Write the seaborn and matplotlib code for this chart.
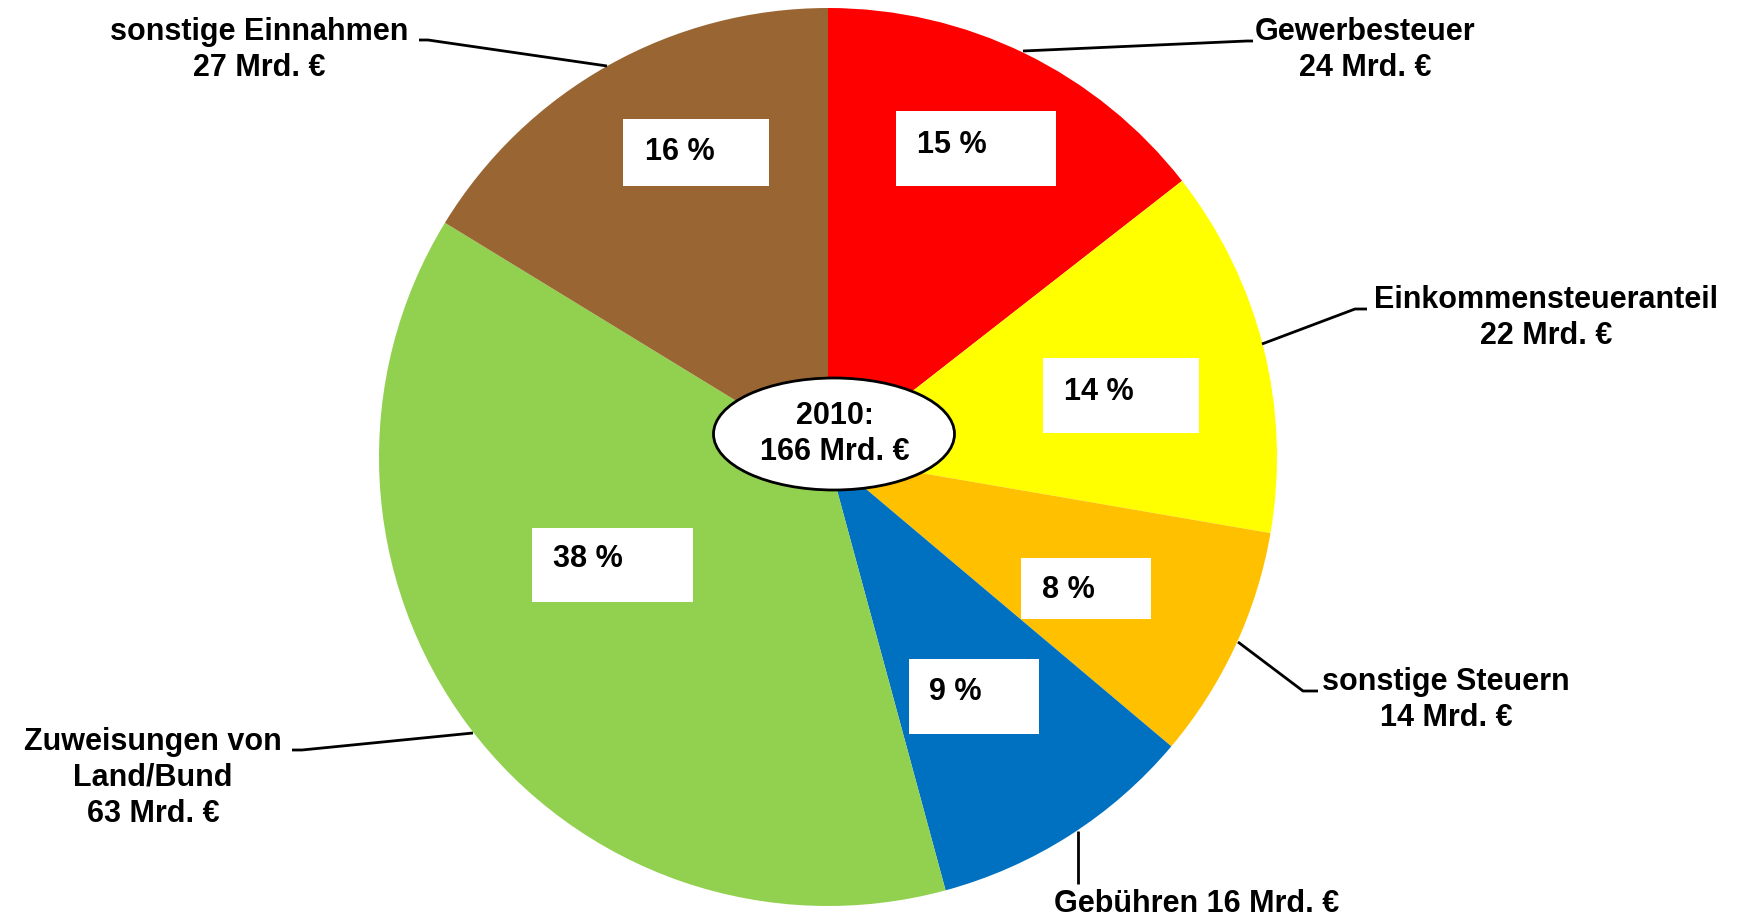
import matplotlib
matplotlib.use("Agg")
import matplotlib.pyplot as plt
from matplotlib.patches import Ellipse, Rectangle
import seaborn as sns

# ---- data ----
categories = ["Gewerbesteuer", "Einkommensteueranteil", "sonstige Steuern",
              "Gebühren", "Zuweisungen von\nLand/Bund", "sonstige Einnahmen"]
values_mrd = [24, 22, 14, 16, 63, 27]
percent_labels = [15, 14, 8, 9, 38, 16]
separators = ["\n", "\n", "\n", " ", "\n", "\n"]
total_label = "2010:\n166 Mrd. €"
colors = ["#FF0000", "#FFFF00", "#FFC000", "#0070C0", "#92D050", "#996633"]

# ---- layout (pixel coordinates, y downward) ----
W, H = 1745, 920
pie_center = (828, 458)
pie_radius = 449
# percent boxes: (x0, y0, x1, y1) and text (left, center y)
pct_boxes = [(896, 112, 1056, 187), (1043, 359, 1199, 434), (1021, 559, 1151, 620),
             (909, 660, 1039, 735), (532, 529, 693, 603), (623, 120, 769, 187)]
pct_text = [(917, 145), (1064, 392), (1042, 590), (929, 692), (553, 559), (645, 152)]
out_text = [(1365, 50), (1546, 318), (1446, 700), (1197, 904), (153, 778), (259, 50)]
leaders = [
    [(1023, 52), (1247, 42), (1253, 42)],
    [(1262, 345), (1355, 310), (1367, 310)],
    [(1238, 643), (1303, 692), (1318, 692)],
    [(1078, 832), (1078, 885)],
    [(473, 734), (302, 751), (292, 751)],
    [(607, 67), (428, 41), (419, 41)],
]

sns.set_theme(style="white")
plt.rcParams["font.family"] = ["Liberation Sans", "DejaVu Sans"]

def Y(y):
    return H - y

fig = plt.figure(figsize=(W / 100, H / 100), dpi=100)
ax = fig.add_axes([0, 0, 1, 1])
ax.pie(values_mrd, colors=colors, startangle=90, counterclock=False,
       center=(pie_center[0], Y(pie_center[1])), radius=pie_radius,
       wedgeprops=dict(linewidth=0))
ax.set_xlim(0, W)
ax.set_ylim(0, H)
ax.set_aspect("equal")
ax.axis("off")

fs = 22
for (x0, y0, x1, y1), (tx, ty), p in zip(pct_boxes, pct_text, percent_labels):
    ax.add_patch(Rectangle((x0, Y(y1)), x1 - x0, y1 - y0, facecolor="white",
                           edgecolor="none", zorder=3))
    ax.text(tx, Y(ty), f"{p} %", ha="left", va="center", fontsize=fs,
            fontweight="bold", color="black", zorder=4)

for (tx, ty), name, sep, v in zip(out_text, categories, separators, values_mrd):
    ax.text(tx, Y(ty), f"{name}{sep}{v} Mrd. €", ha="center", va="center",
            multialignment="center", fontsize=fs, fontweight="bold",
            color="black", linespacing=1.28, zorder=4)

for pts in leaders:
    xs = [p[0] for p in pts]
    ys = [Y(p[1]) for p in pts]
    ax.plot(xs, ys, color="black", lw=2, solid_capstyle="butt", zorder=4)

ax.add_patch(Ellipse((834, Y(435)), 241, 112, facecolor="white",
                     edgecolor="black", lw=2, zorder=5))
ax.text(835, Y(434), total_label, ha="center", va="center", fontsize=fs,
        fontweight="bold", color="black", linespacing=1.28, zorder=6)

fig.savefig("out.png", dpi=100, facecolor="white")
